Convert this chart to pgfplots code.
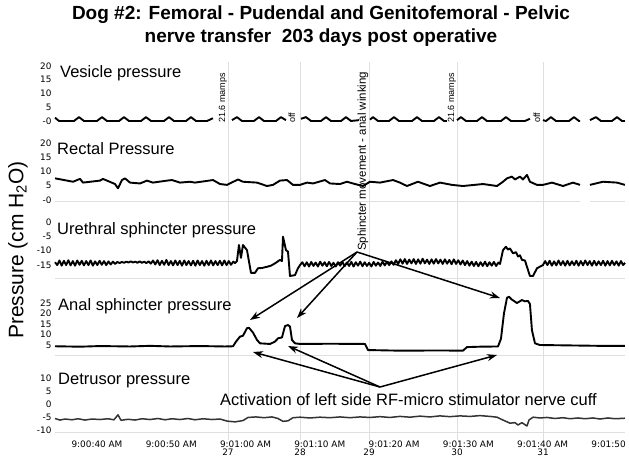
\documentclass[border=0pt]{standalone}
\usepackage{fontspec}
\setmainfont{Liberation Sans}
\newfontfamily\tickfont{DejaVu Sans}
\usepackage{pgfplots}
\pgfplotsset{compat=1.18}
\usetikzlibrary{arrows.meta}

% x axis: seconds after 9:00:00
\pgfplotsset{
  panel/.style={
    scale only axis, width=570pt, anchor=south west,
    xmin=38.25, xmax=115, xtick=\empty,
    axis line style={draw=none}, major tick length=0pt,
    tick label style={font=\tickfont\fontsize{8.9}{10}\selectfont},
    clip=false,
  },
  trace/.style={black, line width=1.9pt, line join=round, mark=none, unbounded coords=jump},
}
\tikzset{
  base/.style={gray!25, line width=0.8pt},
  arr/.style={-{Stealth[length=10pt,width=7pt]}, line width=1.5pt},
  lab/.style={font=\fontsize{16.5}{18}\selectfont, anchor=base west, inner sep=0pt},
  vlab/.style={rotate=90, anchor=west, inner sep=0pt, font=\fontsize{9}{10}\selectfont},
}

\begin{document}
\begin{tikzpicture}[x=1pt, y=-1pt]
\useasboundingbox (0,0) rectangle (629,461);

% event markers (stimulation numbers)
\begin{axis}[panel, at={(55pt,-440pt)}, height=378pt, ymin=0, ymax=1, ytick=\empty,
  xtick={61.54,71.24,80.53,92.38,103.96}, xticklabels={27,28,29,30,31},
  xmajorgrids, major grid style={gray!25, line width=0.8pt},
  xticklabel style={yshift=-5pt}]
\end{axis}

% Vesicle pressure
\begin{axis}[panel, at={(55pt,-125.1pt)}, height=63.25pt, ymin=-1.5, ymax=21.5,
  ytick={0,5,10,15,20}, yticklabels={-0,5,10,15,20}]
\addplot[trace] coordinates {
 (38.25,1.2) (38.79,0) (40.81,0) (41.48,1.4) (42.15,0)
 (43.90,0) (44.58,1.4) (45.25,0) (46.87,0) (47.54,1.4) (48.21,0)
 (49.83,0) (50.50,1.4) (51.18,0) (52.93,0) (53.60,1.4) (54.27,0)
 (55.89,0) (56.56,1.4) (57.23,0) (58.72,0) (59.52,1.0)
 (59.60,nan)
 (62.08,0.3) (62.75,1.4) (63.43,0) (65.04,0) (65.72,1.4) (66.39,0)
 (68.01,0) (68.68,1.4) (69.35,0.3)
 (70.00,nan)
 (71.37,0.8) (72.05,1.4) (72.72,0) (74.06,0) (74.74,1.4) (75.41,0)
 (76.76,0) (77.43,1.4) (78.10,0) (79.18,0.3)
 (80.00,nan)
 (80.66,0.5) (81.07,1.4) (81.74,0) (83.22,0) (83.89,1.4) (84.57,0)
 (86.32,0) (86.99,1.4) (87.66,0) (89.28,0) (89.95,1.4) (90.63,0) (91.03,0)
 (91.50,nan)
 (92.38,0.3) (92.91,1.4) (93.59,0) (95.07,0) (95.74,1.4) (96.41,0)
 (98.30,0) (98.97,1.4) (99.65,0) (101.53,0) (102.20,0.8)
 (103.00,nan)
 (103.95,0.3) (104.36,0) (105.03,1.4) (105.70,0)
 (107.46,0) (108.13,1.4) (108.80,0) (108.94,0)
 (109.50,nan)
 (110.28,0.3) (111.09,1.4) (111.76,0) (113.24,0) (113.92,1.4) (114.59,0) (114.99,0)
};
\end{axis}

% Rectal pressure
\begin{axis}[panel, at={(55pt,-201.4pt)}, height=64.1pt, ymin=-0.5, ymax=22,
  ytick={0,5,10,15,20}, yticklabels={-0,5,10,15,20}]
\draw[base] (axis cs:38.25,-0.5) -- (axis cs:108.94,-0.5);
\draw[base] (axis cs:110.28,-0.5) -- (axis cs:115,-0.5);
\addplot[trace] coordinates {
 (38.25,7.6) (39.87,6.8) (40.67,6.4) (41.62,7.4) (42.02,6.1) (44.31,6.8)
 (44.71,7.4) (45.25,6.8) (46.33,5.6) (46.73,4.1) (47.27,7.0) (47.67,7.6)
 (48.35,6.1) (49.69,5.8) (50.64,6.8) (51.44,6.1) (53.33,6.8) (54.00,7.0)
 (55.08,6.1) (56.43,6.4) (57.10,6.1) (59.52,7.0) (60.47,5.6) (61.41,5.3)
 (62.89,7.2) (63.56,6.4) (65.45,6.1) (66.79,4.9) (67.60,5.3) (68.54,6.8)
 (69.49,7.0) (70.29,5.3) (71.24,5.3) (72.18,6.1) (72.99,5.8) (74.60,7.0)
 (75.28,5.8) (76.62,5.6) (77.57,6.4) (78.64,5.6) (79.72,4.9) (80.66,6.4)
 (82.01,6.1) (83.76,7.0) (84.70,6.1) (85.64,4.9) (87.12,6.4) (88.74,4.9)
 (90.09,6.1) (91.70,5.3) (93.18,4.9) (95.88,5.6) (97.76,4.9) (98.57,6.4)
 (99.11,7.6) (99.78,8.2) (100.18,7.2) (100.86,8.2) (101.26,7.2) (101.80,8.8)
 (102.20,6.4) (103.15,5.3) (103.95,5.3) (105.17,6.1) (106.65,4.9) (107.99,6.1)
 (108.94,5.3)
 (109.50,nan)
 (110.28,5.3) (112.03,6.4) (113.92,6.1) (114.99,5.3)
};
\end{axis}

% Urethral sphincter pressure
\begin{axis}[panel, at={(55pt,-278pt)}, height=63.14pt, ymin=-19.5, ymax=2.5,
  ytick={-15,-10,-5,0}, yticklabels={-15,-10,-5,0}]
\draw[base] (rel axis cs:0,0) -- (rel axis cs:1,0);
\addplot[trace] coordinates {
 (38.25,-14.0) (38.55,-15.0) (38.85,-13.4) (39.15,-15.2) (39.45,-13.5) (39.75,-15.0)
 (40.05,-13.3) (40.35,-15.1) (40.65,-13.6) (40.95,-15.2) (41.25,-13.4) (41.55,-14.9)
 (41.85,-13.5) (42.15,-15.1) (42.45,-13.6) (42.75,-15.0) (43.05,-13.4) (43.35,-15.2)
 (43.65,-13.7) (43.95,-15.0) (44.25,-13.5) (44.55,-14.9) (44.85,-13.6) (45.15,-15.0)
 (45.45,-13.7) (45.75,-14.8) (46.05,-13.8) (46.35,-14.6) (46.65,-13.9)
 (46.95,-14.3) (47.25,-13.9) (47.55,-14.2) (47.85,-13.8) (48.15,-14.1) (48.45,-13.7)
 (48.75,-14.1) (49.05,-13.8) (49.35,-14.2) (49.65,-13.7) (49.95,-14.2) (50.25,-13.8)
 (50.55,-14.3) (50.85,-13.7) (51.15,-14.5)
 (51.45,-13.4) (51.75,-14.8) (52.05,-13.3) (52.35,-15.0) (52.65,-13.5) (52.95,-14.9)
 (53.25,-13.2) (53.55,-15.0) (53.85,-13.6) (54.15,-15.1) (54.45,-13.4) (54.75,-15.0)
 (55.05,-13.5) (55.35,-15.2) (55.65,-13.4) (55.95,-15.0) (56.25,-13.6) (56.55,-15.1)
 (56.85,-13.5) (57.15,-15.2) (57.45,-13.4) (57.75,-15.0) (58.05,-13.6) (58.35,-15.2)
 (58.65,-13.5) (58.95,-15.0) (59.25,-13.4) (59.55,-15.1) (59.85,-13.6) (60.15,-15.0)
 (60.45,-13.5) (60.75,-15.1) (61.05,-13.4) (61.35,-15.0) (61.65,-13.6) (61.95,-14.9)
 (62.25,-13.8) (62.50,-14.3) (62.75,-13.6)
 (63.02,-8.0) (63.29,-12.5) (63.56,-8.0) (64.10,-9.8) (64.64,-17.7) (65.18,-17.7)
 (65.58,-16.1) (66.12,-16.0) (66.79,-15.6) (67.33,-15.2) (67.87,-14.4) (68.54,-13.2)
 (68.81,-13.6) (68.95,-5.1) (69.35,-9.8) (69.62,-10.3) (69.89,-18.8) (70.56,-18.5)
 (70.97,-16.1) (71.24,-15.0)
 (71.55,-14.0) (71.85,-15.4) (72.15,-14.0) (72.45,-15.5) (72.75,-13.9) (73.05,-15.3)
 (73.35,-14.1) (73.65,-15.5) (73.95,-13.8) (74.25,-15.2) (74.55,-14.0) (74.85,-15.4)
 (75.15,-13.9) (75.45,-15.3) (75.75,-14.2) (76.05,-15.5) (76.35,-14.0) (76.65,-15.2)
 (76.95,-13.9) (77.25,-15.4) (77.55,-14.1) (77.85,-15.3) (78.15,-13.9) (78.45,-15.5)
 (78.75,-14.0) (79.05,-15.2) (79.35,-13.8) (79.65,-15.4) (79.95,-14.0) (80.25,-15.3)
 (80.55,-14.2) (80.85,-15.5) (81.15,-13.9) (81.45,-15.2) (81.75,-14.1) (82.05,-15.3)
 (82.35,-13.8) (82.65,-15.1) (82.95,-13.9) (83.25,-15.0) (83.55,-13.7) (83.85,-14.9)
 (84.15,-13.3) (84.45,-14.6) (84.75,-13.0) (85.05,-14.5) (85.35,-12.9) (85.65,-14.6)
 (85.95,-13.1) (86.25,-14.4) (86.55,-12.9) (86.85,-14.6) (87.15,-13.0) (87.45,-14.5)
 (87.75,-12.8) (88.05,-14.4) (88.35,-13.1) (88.65,-14.6) (88.95,-13.0) (89.25,-14.5)
 (89.55,-12.9) (89.85,-14.4) (90.15,-13.1) (90.45,-14.6) (90.75,-13.0) (91.05,-14.5)
 (91.35,-13.2) (91.65,-14.7) (91.95,-13.0) (92.25,-14.6) (92.55,-13.3) (92.85,-14.8)
 (93.15,-13.4) (93.45,-15.0) (93.75,-13.6) (94.05,-15.2) (94.35,-13.8) (94.65,-15.3)
 (94.95,-13.9) (95.25,-15.4) (95.55,-14.0) (95.85,-15.3) (96.15,-13.8) (96.45,-15.4)
 (96.75,-14.0) (97.05,-15.2) (97.35,-13.9) (97.65,-15.3) (97.95,-14.1)
 (98.17,-14.6) (98.57,-9.8) (98.97,-8.6) (99.24,-9.6) (99.51,-9.2) (99.92,-10.9)
 (100.32,-10.5) (100.59,-12.0) (100.86,-11.6) (101.13,-13.2) (101.53,-13.4) (101.80,-15.6)
 (102.20,-18.8) (102.61,-18.8) (103.15,-16.1) (103.95,-15.0)
 (104.25,-13.6) (104.55,-15.0) (104.85,-13.5) (105.15,-15.2) (105.45,-13.7) (105.75,-15.1)
 (106.05,-13.4) (106.35,-15.0) (106.65,-13.6) (106.95,-15.2) (107.25,-13.5) (107.55,-15.1)
 (107.85,-13.7) (108.15,-15.0) (108.45,-13.5) (108.75,-15.2) (109.05,-13.6) (109.35,-15.1)
 (109.65,-13.4) (109.95,-15.0) (110.25,-13.6) (110.55,-15.2) (110.85,-13.5) (111.15,-15.1)
 (111.45,-13.7) (111.75,-15.0) (112.05,-13.5) (112.35,-15.2) (112.65,-13.6) (112.95,-15.1)
 (113.25,-13.5) (113.55,-15.0) (113.85,-13.7) (114.15,-15.2) (114.45,-13.6) (114.75,-15.0)
 (115.00,-14.2)
};
\end{axis}

% Anal sphincter pressure
\begin{axis}[panel, at={(55pt,-355.5pt)}, height=60.9pt, ymin=0, ymax=29,
  ytick={5,10,15,20,25}, yticklabels={5,10,15,20,25}]
\draw[base] (rel axis cs:0,0) -- (rel axis cs:1,0);
\addplot[trace] coordinates {
 (38.25,4.4) (41.62,4.2) (44.31,4.5) (48.35,4.3) (51.04,4.6) (53.73,4.3)
 (57.77,4.5) (61.14,4.3) (62.22,4.4) (62.62,6.6) (63.16,9.0) (63.56,9.4)
 (64.10,13.0) (64.37,13.2) (64.91,10.9) (65.45,7.4) (65.85,5.8) (67.20,5.5)
 (67.87,6.6) (68.28,8.2) (68.81,8.6) (69.22,14.0) (69.62,14.5) (69.89,13.8)
 (70.16,7.4) (70.56,5.8) (71.24,5.5) (75.28,5.6) (79.99,5.5) (80.39,2.6)
 (84.70,2.3) (90.09,2.4) (93.18,2.3) (93.72,4.0) (95.47,4.2) (97.90,4.3)
 (98.30,8.0) (98.70,20.0) (99.11,27.5) (99.38,28.0) (99.78,26.6) (100.45,25.0)
 (101.12,26.4) (101.53,25.8) (101.94,26.0) (102.20,24.5) (102.47,12.0) (102.88,5.8)
 (103.55,5.0) (107.59,4.8) (111.63,4.6) (114.99,4.6)
};
\end{axis}

% Detrusor pressure
\begin{axis}[panel, at={(55pt,-432pt)}, height=59.28pt, ymin=-10.8, ymax=12,
  ytick={-10,-5,0,5,10}, yticklabels={-10,-5,0,5,10},
  xtick={40,50,60,70,80,90,100,110},
  xticklabels={9:00:40 AM,9:00:50 AM,9:01:00 AM,9:01:10 AM,9:01:20 AM,9:01:30 AM,9:01:40 AM,9:01:50},
  xticklabel style={anchor=north west, yshift=-5pt}]
\draw[base] (rel axis cs:0,0) -- (rel axis cs:1,0);
\addplot[black!80, line width=1.5pt, line join=round, mark=none] coordinates {
 (38.25,-5.6) (38.92,-6.2) (39.60,-5.8) (40.54,-6.1) (41.35,-5.7) (42.29,-6.2)
 (43.23,-5.8) (44.31,-6.0) (45.39,-5.7) (46.19,-6.1) (46.73,-4.2) (47.14,-6.3)
 (48.08,-5.9) (49.02,-6.2) (49.96,-5.7) (51.04,-6.0) (52.12,-5.6) (53.06,-6.1)
 (54.00,-5.7) (55.08,-6.0) (56.16,-5.6) (57.10,-6.1) (58.18,-5.7) (59.39,-6.0)
 (60.47,-5.8) (61.41,-6.6) (62.49,-6.9) (63.56,-6.4) (64.24,-5.2) (65.31,-5.0)
 (66.39,-5.3) (67.47,-5.0) (68.27,-5.6) (68.95,-6.7) (69.62,-6.5) (70.29,-5.3)
 (71.24,-5.1) (72.58,-5.4) (73.93,-5.1) (75.28,-5.3) (76.62,-5.0) (77.97,-5.3)
 (79.32,-5.0) (80.66,-5.2) (82.01,-4.9) (83.35,-5.2) (84.70,-4.8) (86.05,-5.1)
 (87.39,-4.7) (88.74,-5.0) (90.09,-4.6) (91.43,-4.9) (92.78,-4.6) (94.13,-4.8)
 (95.47,-4.5) (96.82,-4.8) (97.76,-5.1) (98.57,-6.2) (99.51,-7.4) (100.18,-7.2)
 (100.59,-8.1) (101.12,-7.2) (101.80,-8.5) (102.07,-6.2) (102.61,-5.1) (103.55,-5.4)
 (104.49,-5.2) (105.57,-5.6) (106.65,-5.3) (107.59,-5.7) (108.67,-5.4) (109.61,-5.7)
 (110.69,-5.4) (111.63,-5.8) (112.71,-5.4) (113.65,-5.7) (114.99,-5.5)
};
\end{axis}

% titles and labels
\node[font=\bfseries\fontsize{19}{22}\selectfont, anchor=base] at (321,19.5)
  {Dog \#2: Femoral - Pudendal and Genitofemoral - Pelvic};
\node[font=\bfseries\fontsize{19}{22}\selectfont, anchor=base] at (321,42)
  {nerve transfer\ \ 203 days post operative};
\node[rotate=90, font=\fontsize{21}{24}\selectfont] at (18,250)
  {Pressure (cm H\textsubscript{2}O)};

\node[lab] at (60,77) {Vesicle pressure};
\node[lab] at (57,154) {Rectal Pressure};
\node[lab] at (57,234) {Urethral sphincter pressure};
\node[lab] at (58,310) {Anal sphincter pressure};
\node[lab] at (58,384) {Detrusor pressure};

\node[vlab] at (223,123) {21.6 mamps};
\node[vlab] at (292,123) {off};
\node[vlab] at (452,123) {21.6 mamps};
\node[vlab] at (537,123) {off};
\node[vlab, font=\fontsize{11.5}{13}\selectfont] at (363,251) {Sphincter movement - anal winking};

\draw[arr] (357,252) -- (250,320);
\draw[arr] (357,252) -- (297,318);
\draw[arr] (357,252) -- (500,298);

\node[lab] at (220,405) {Activation of left side RF-micro stimulator nerve cuff};
\draw[arr] (380,387) -- (253,352);
\draw[arr] (380,387) -- (288,346);
\draw[arr] (380,387) -- (497,355);
\end{tikzpicture}
\end{document}
